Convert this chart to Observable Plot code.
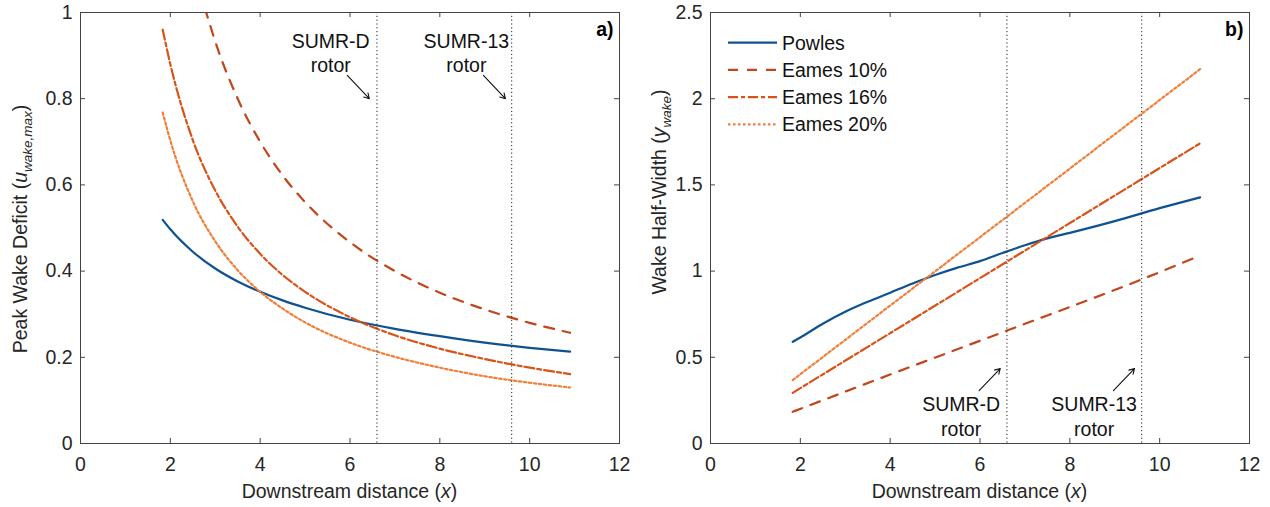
<!DOCTYPE html>
<html><head><meta charset="utf-8">
<script src="https://cdn.jsdelivr.net/npm/d3@7"></script>
<script src="https://cdn.jsdelivr.net/npm/@observablehq/plot@0.6"></script>
<style>
body{margin:0;background:#fff;}
#wrap{display:flex;width:1270px;height:507px;}
svg{display:block}
</style></head><body><div id="wrap"></div>
<script>
// ---------- data ----------
const seriesNames = ["Powles", "Eames 10%", "Eames 16%", "Eames 20%"];
const seriesColors = ["#0f5291", "#c2461b", "#d95319", "#f07f3a"];
const seriesDash = ["none", "10,9", "10,3,4,3", "2.5,2.5"];

// panel a: peak wake deficit
const xA = [1.83, 2, 2.5, 3, 3.5, 4, 4.5, 5, 6, 7, 8, 9, 10, 10.9];
const powlesA = [0.519, 0.497, 0.445, 0.406, 0.376, 0.352, 0.332, 0.315, 0.287, 0.266, 0.249, 0.234, 0.222, 0.213];
const eames10A = [1.53, 1.40, 1.12, 0.933, 0.80, 0.70, 0.622, 0.56, 0.467, 0.40, 0.35, 0.311, 0.28, 0.257];
const eames16A = [0.96, 0.88, 0.704, 0.587, 0.503, 0.44, 0.391, 0.352, 0.293, 0.251, 0.22, 0.196, 0.176, 0.161];
const eames20A = [0.768, 0.703, 0.562, 0.469, 0.402, 0.352, 0.313, 0.281, 0.234, 0.201, 0.176, 0.156, 0.141, 0.13];

// panel b: wake half-width
const xPowlesB = [1.83, 2, 2.5, 3, 3.5, 4, 4.5, 5, 5.5, 6, 6.5, 7, 7.5, 8, 9, 10, 10.9];
const powlesB = [0.59, 0.615, 0.695, 0.764, 0.822, 0.875, 0.928, 0.977, 1.02, 1.058, 1.105, 1.15, 1.19, 1.222, 1.29, 1.365, 1.428];
const xEamesB = [1.83, 4, 6.6, 9.6, 10.9];
const eames10B = [0.184, 0.40, 0.655, 0.952, 1.09];
const eames16B = [0.294, 0.64, 1.055, 1.534, 1.741];
const eames20B = [0.368, 0.80, 1.316, 1.913, 2.171];

// rotor positions
const rotorX = [6.6, 9.6];

// axes ticks
const xTicks = [0, 2, 4, 6, 8, 10, 12];
const yTicksA = [0, 0.2, 0.4, 0.6, 0.8, 1];
const yTicksB = [0, 0.5, 1, 1.5, 2, 2.5];

// annotations
const annoTextA = [{x: 5.57, y: 0.861, label: "SUMR-D\nrotor"}, {x: 8.59, y: 0.861, label: "SUMR-13\nrotor"}];
const annoArrowA = [{x1: 5.94, y1: 0.854, x2: 6.43, y2: 0.800}, {x1: 8.97, y1: 0.854, x2: 9.46, y2: 0.800}];
const annoTextB = [{x: 5.58, y: 0.046, label: "SUMR-D\nrotor"}, {x: 8.54, y: 0.046, label: "SUMR-13\nrotor"}];
const annoArrowB = [{x1: 5.98, y1: 0.307, x2: 6.45, y2: 0.435}, {x1: 8.97, y1: 0.307, x2: 9.44, y2: 0.435}];

// ---------- build tables ----------
function table(xs, ys) { return xs.map((x, i) => ({x, y: ys[i]})); }
const dataA = [table(xA, powlesA), table(xA, eames10A), table(xA, eames16A), table(xA, eames20A)];
const dataB = [table(xPowlesB, powlesB), table(xEamesB, eames10B), table(xEamesB, eames16B), table(xEamesB, eames20B)];

const FONT = "'Liberation Sans', Arial, sans-serif";
const FS = 19.5;
const W = 635, H = 507;

function panel({data, yDomain, yTicks, ml, mr, annoText, annoArrow, tag}) {
  const mt = 12, mb = 64;
  const plotW = W - ml - mr, plotH = H - mt - mb;
  const marks = [];
  data.forEach((d, i) => {
    marks.push(Plot.line(d, {x: "x", y: "y", stroke: seriesColors[i], strokeWidth: 2.2,
      strokeDasharray: seriesDash[i], curve: "monotone-x", clip: true}));
  });
  marks.push(Plot.ruleX(rotorX, {stroke: "#222", strokeWidth: 1, strokeDasharray: "1.2,2.6"}));
  marks.push(Plot.text(annoText, {x: "x", y: "y", text: "label", lineAnchor: "bottom", lineHeight: 1.25,
    fontSize: FS, fill: "#111"}));
  marks.push(Plot.arrow(annoArrow, {x1: "x1", y1: "y1", x2: "x2", y2: "y2", stroke: "#111", strokeWidth: 1.1, headLength: 8}));
  // inward ticks on all four sides
  marks.push(Plot.tickX(xTicks, {x: d => d, stroke: "#444", insetTop: plotH - 5}));
  marks.push(Plot.tickX(xTicks, {x: d => d, stroke: "#444", insetBottom: plotH - 5}));
  marks.push(Plot.tickY(yTicks, {y: d => d, stroke: "#444", insetRight: plotW - 5}));
  marks.push(Plot.tickY(yTicks, {y: d => d, stroke: "#444", insetLeft: plotW - 5}));
  marks.push(Plot.frame({stroke: "#444", strokeWidth: 1}));
  marks.push(Plot.text([tag], {text: d => d, frameAnchor: "top-right", textAnchor: "end", lineAnchor: "top",
    dx: -6, dy: 10, fontWeight: "bold", fontSize: FS, fill: "#000"}));
  return Plot.plot({
    width: W, height: H, marginLeft: ml, marginRight: mr, marginTop: mt, marginBottom: mb,
    style: {fontFamily: FONT, fontSize: FS + "px", color: "#262626", background: "white", overflow: "visible"},
    x: {domain: [0, 12], ticks: xTicks, tickSize: 0, tickPadding: 14, tickFormat: d => String(d), label: null},
    y: {domain: yDomain, ticks: yTicks, tickSize: 0, tickPadding: 8, tickFormat: d => String(d), label: null},
    marks
  });
}

const svgA = panel({data: dataA, yDomain: [0, 1], yTicks: yTicksA, ml: 80, mr: 16,
  annoText: annoTextA, annoArrow: annoArrowA, tag: "a)"});
const svgB = panel({data: dataB, yDomain: [0, 2.5], yTicks: yTicksB, ml: 75, mr: 21,
  annoText: annoTextB, annoArrow: annoArrowB, tag: "b)"});

const wrap = document.getElementById("wrap");
wrap.appendChild(svgA);
wrap.appendChild(svgB);

// axis labels with italic / subscript parts
function xLabel(svg, cx) {
  const t = d3.select(svg).append("text")
    .attr("x", cx).attr("y", 498).attr("text-anchor", "middle")
    .attr("font-family", FONT).attr("font-size", FS).attr("fill", "#262626");
  t.append("tspan").text("Downstream distance (");
  t.append("tspan").attr("font-style", "italic").text("x");
  t.append("tspan").text(")");
}
function yLabel(svg, bx, cy, main, v, sub) {
  const t = d3.select(svg).append("text")
    .attr("transform", `translate(${bx},${cy}) rotate(-90)`).attr("text-anchor", "middle")
    .attr("font-family", FONT).attr("font-size", FS).attr("fill", "#262626");
  t.append("tspan").text(main + " (");
  t.append("tspan").attr("font-style", "italic").text(v);
  t.append("tspan").attr("font-style", "italic").attr("font-size", 13.5).attr("dy", 5).text(sub);
  t.append("tspan").attr("dy", -5).text(")");
}
xLabel(svgA, 349.5);
xLabel(svgB, 75 + (W - 75 - 21) / 2);
yLabel(svgA, 27, 229, "Peak Wake Deficit", "u", "wake,max");
yLabel(svgB, 31, 192, "Wake Half-Width", "y", "wake");

// legend in panel b (no box)
const leg = d3.select(svgB).append("g").attr("font-family", FONT).attr("font-size", FS).attr("text-anchor", "start");
seriesNames.forEach((name, i) => {
  const y = 42.7 + i * 27.2;
  leg.append("line").attr("x1", 93).attr("x2", 142).attr("y1", y).attr("y2", y)
    .attr("stroke", seriesColors[i]).attr("stroke-width", 2.2)
    .attr("stroke-dasharray", seriesDash[i] === "none" ? null : seriesDash[i]);
  leg.append("text").attr("x", 147).attr("y", y).attr("dy", "0.35em").attr("text-anchor", "start")
    .attr("fill", "#111").text(name);
});
</script></body></html>
